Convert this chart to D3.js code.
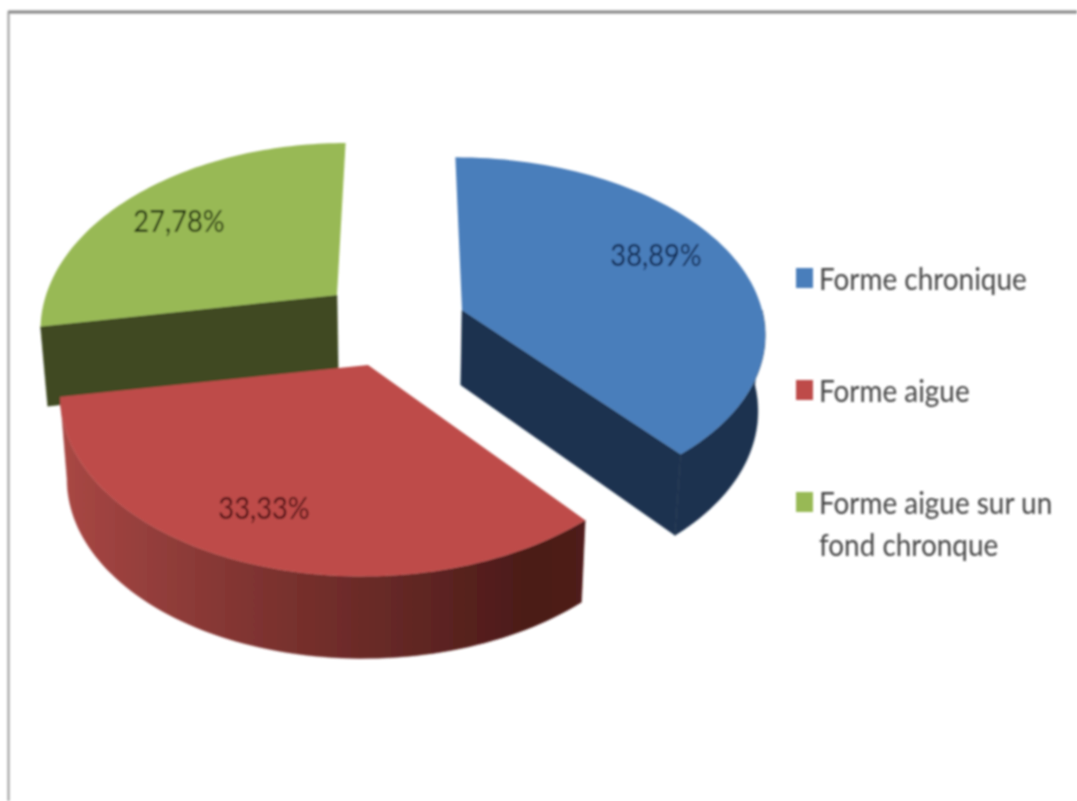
<!DOCTYPE html>
<html>
<head>
<meta charset="utf-8">
<script src="https://cdn.jsdelivr.net/npm/d3@7"></script>
<style>
  html, body { margin: 0; padding: 0; background: #fff; overflow: hidden; }
  svg { display: block; }
  text { font-family: Lato, "Open Sans", sans-serif; }
</style>
</head>
<body>
<svg id="chart" width="1077" height="801"></svg>
<script>
// data
var categories = ['Forme chronique', 'Forme aigue', 'Forme aigue sur un fond chronque'];
var percents = [38.89, 33.33, 27.78];
var percentLabels = ['38,89%', '33,33%', '27,78%'];
var legendLines = [['Forme chronique'], ['Forme aigue'], ['Forme aigue sur un', 'fond chronque']];

// colours
var topColors = ['#4a7ebb', '#be4b48', '#98b954'];
var sideColors = ['#1c334f', '#7a2e2c', '#3f4a22'];
var labelColors = ['#0c2650', '#4e1012', '#1a2c08'];

// layout of each exploded slice, and where its label sits
var centers = [[462, 310], [368, 365], [337, 295]];
var radiiX = [300, 303, 291];
var radiiY = [171, 178, 176];
var persps = [0.12, 0.158, 0.158];
var depths = [75, 82, 78];
var depthGrow = [60, 0, 60];
var labelSpots = [[656, 254], [264, 507], [179, 220]];
var legendY = [278, 390, 502];

var vanishX = 400, bottomShrink = 0.98;

var svg = d3.select('#chart');

var defs = svg.append('defs');
var blur = defs.append('filter').attr('id', 'soft')
  .attr('x', '-5%').attr('y', '-5%').attr('width', '110%').attr('height', '110%');
blur.append('feGaussianBlur').attr('stdDeviation', 0.8);

var redWall = defs.append('linearGradient').attr('id', 'redWall')
  .attr('gradientUnits', 'userSpaceOnUse')
  .attr('x1', 60).attr('x2', 582).attr('y1', 0).attr('y2', 0);
[[0, '#a94744'], [0.18, '#933e3b'], [0.42, '#7a312e'], [0.65, '#642825'], [0.9, '#4b1a18'], [1, '#4f1c1a']]
  .forEach(function (s) { redWall.append('stop').attr('offset', s[0]).attr('stop-color', s[1]); });

var root = svg.append('g').attr('filter', 'url(#soft)');

// frame of the original picture
root.append('path')
  .attr('d', d3.line()([[8, 12], [1077, 12]]))
  .attr('fill', 'none').attr('stroke', '#858585').attr('stroke-width', 3);
root.append('path')
  .attr('d', d3.line()([[8.5, 11], [8.5, 801]]))
  .attr('fill', 'none').attr('stroke', '#9a9a9a').attr('stroke-width', 2);

var pie = d3.pie().sort(null).value(function (d) { return d; });
var arcs = pie(percents);

// screen position of a rim point, angle measured clockwise from the back of the pie
function project(i, theta, bottom) {
  var c = centers[i];
  var s = 1 / (1 + persps[i] * Math.cos(theta));
  var x = c[0] + radiiX[i] * s * Math.sin(theta) + (vanishX - c[0]) * (1 - s);
  var y = c[1] - radiiY[i] * s * Math.cos(theta);
  if (bottom) {
    x = vanishX + (x - vanishX) * bottomShrink;
    y += depths[i] + depthGrow[i] * (s - 1);
  }
  return [x, y];
}

function centerPoint(i, bottom) {
  var c = centers[i];
  if (!bottom) return c;
  return [vanishX + (c[0] - vanishX) * bottomShrink, c[1] + depths[i]];
}

function rim(i, a0, a1, bottom) {
  var n = 80;
  return d3.range(n + 1).map(function (k) {
    return project(i, a0 + (a1 - a0) * k / n, bottom);
  });
}

var line = d3.line();

// draw back to front so that the red slice covers the foot of the green one
var order = [2, 0, 1];
order.forEach(function (i) {
  var a = arcs[i];
  var g = root.append('g').attr('class', 'slice');
  var side = i === 1 ? 'url(#redWall)' : sideColors[i];

  // cut face on the visible radius
  if (i !== 1) {
    var edge = i === 0 ? a.endAngle : a.startAngle;
    g.append('path')
      .attr('d', line([centerPoint(i, false), project(i, edge, false), project(i, edge, true), centerPoint(i, true)]) + 'Z')
      .attr('fill', side).attr('stroke', side).attr('stroke-width', 0.5);
  }

  // outer wall, only the part that faces the viewer
  if (i !== 2) {
    var from = Math.max(a.startAngle, Math.PI / 2);
    g.append('path')
      .attr('d', line(rim(i, from, a.endAngle, false).concat(rim(i, from, a.endAngle, true).reverse())) + 'Z')
      .attr('fill', side).attr('stroke', side).attr('stroke-width', 0.5);
  }

  // top face
  g.append('path')
    .attr('d', line([centerPoint(i, false)].concat(rim(i, a.startAngle, a.endAngle, false))) + 'Z')
    .attr('fill', topColors[i]);
});

// percentage labels
root.selectAll('text.pct')
  .data(percentLabels)
  .enter().append('text')
  .attr('class', 'pct')
  .attr('transform', function (d, i) {
    return 'translate(' + labelSpots[i][0] + ',' + labelSpots[i][1] + ') scale(0.88,1)';
  })
  .attr('text-anchor', 'middle')
  .attr('dominant-baseline', 'central')
  .attr('font-size', 31)
  .attr('fill', function (d, i) { return labelColors[i]; })
  .text(function (d) { return d; });

// legend
var legend = root.selectAll('g.legend')
  .data(categories)
  .enter().append('g')
  .attr('class', 'legend')
  .attr('transform', function (d, i) { return 'translate(796,' + legendY[i] + ')'; });

legend.append('rect')
  .attr('y', -10).attr('width', 17).attr('height', 20)
  .attr('fill', function (d, i) { return topColors[i]; });

legend.each(function (d, i) {
  var g = d3.select(this);
  legendLines[i].forEach(function (t, j) {
    g.append('text')
      .attr('transform', 'translate(23,' + (12 + j * 42) + ') scale(0.93,1)')
      .attr('font-size', 30)
      .attr('fill', '#454545')
      .text(t);
  });
});
</script>
</body>
</html>
